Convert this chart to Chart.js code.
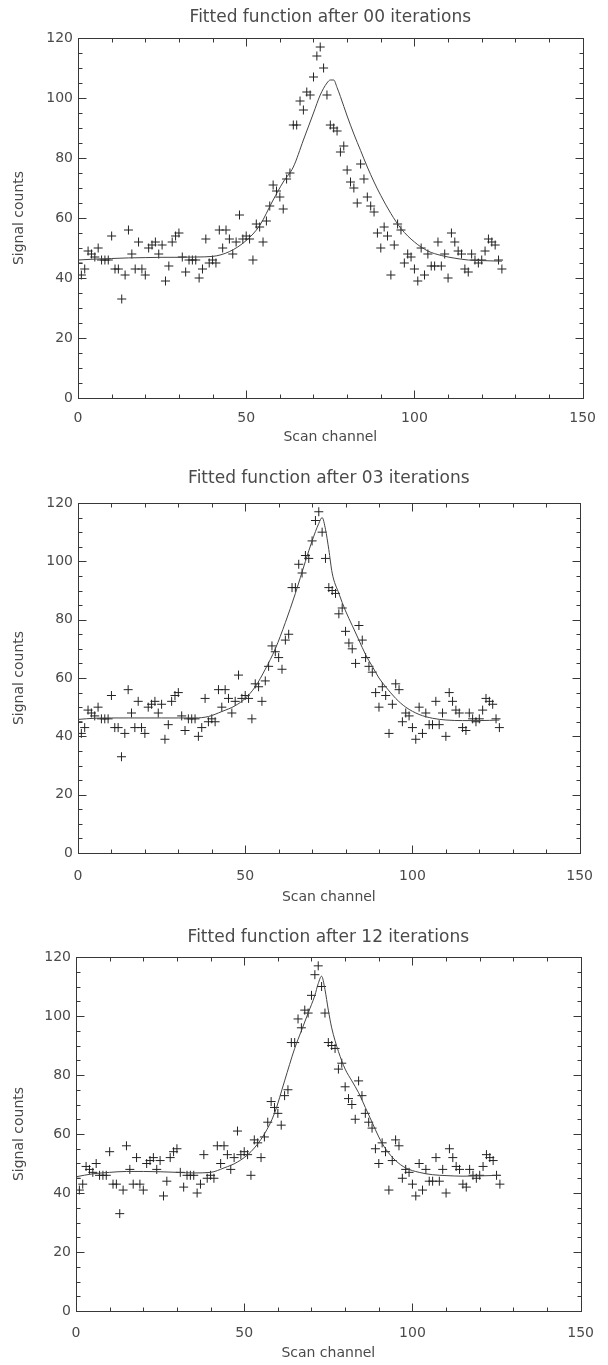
<!DOCTYPE html>
<html>
<head>
<meta charset="utf-8">
<script src="https://cdn.jsdelivr.net/npm/chart.js@4.4.1/dist/chart.umd.min.js"></script>
<style>
  html, body { margin: 0; padding: 0; background: #fff; }
  #wrap { position: relative; width: 608px; height: 1365px; }
  #wrap canvas { position: absolute; left: 0; }
</style>
</head>
<body>
<div id="wrap">
  <canvas id="p0" width="608" height="455" style="top:0px"></canvas>
  <canvas id="p1" width="608" height="455" style="top:455px"></canvas>
  <canvas id="p2" width="608" height="455" style="top:910px"></canvas>
</div>
<script>
// measured signal, one value per scan channel (channel = index)
const signal = [
  45, 41, 43, 49, 48, 47, 50, 46, 46, 46,
  54, 43, 43, 33, 41, 56, 48, 43, 52, 43,
  41, 50, 51, 52, 48, 51, 39, 44, 52, 54,
  55, 47, 42, 46, 46, 46, 40, 43, 53, 45,
  46, 45, 56, 50, 56, 53, 48, 52, 61, 53,
  54, 53, 46, 58, 57, 52, 59, 64, 71, 69,
  67, 63, 73, 75, 91, 91, 99, 96, 102, 101,
  107, 114, 117, 110, 101, 91, 90, 89, 82, 84,
  76, 72, 70, 65, 78, 73, 67, 64, 62, 55,
  50, 57, 54, 41, 51, 58, 56, 45, 48, 47,
  43, 39, 50, 41, 48, 44, 44, 52, 44, 48,
  40, 55, 52, 49, 48, 43, 42, 48, 46, 45,
  46, 49, 53, 52, 51, 46, 43
];

// fitted curves
const fit00X = [0, 5, 10, 15, 20, 25, 30, 35, 40, 45, 50, 54, 58, 61, 64, 67, 70, 72, 74, 75, 76, 77, 78, 80, 82, 84, 86, 88, 90, 93, 96, 100, 104, 108, 112, 116, 120, 126];
const fit00Y = [46, 46.3, 46.5, 46.7, 46.8, 46.9, 46.9, 47, 47.2, 48.8, 52.5, 57.5, 66, 72, 77, 86, 95, 101, 105, 106, 106, 103.5, 100.5, 94, 88, 82.5, 77, 72, 67.5, 61.5, 56.5, 52, 49, 47.5, 46.6, 46, 45.8, 45.6];

const fit03X = [0, 5, 10, 15, 20, 25, 30, 35, 39, 43, 47, 50, 53, 56, 59, 62, 65, 68, 70, 72, 73, 74, 75, 76, 78, 80, 82, 84, 86, 88, 90, 92, 95, 98, 102, 106, 110, 115, 120, 126];
const fit03Y = [45.8, 46.2, 46.3, 46.3, 46.3, 46.3, 46.3, 46.3, 46.8, 48.5, 50.5, 53, 57, 63, 70, 79, 89, 100, 107, 113, 115, 111, 104, 96, 89, 83, 78, 73, 68, 64, 60, 57, 53, 50, 47.5, 46.2, 45.6, 45.4, 45.4, 45.6];

const fit12X = [0, 5, 10, 15, 20, 25, 30, 35, 40, 44, 48, 52, 56, 59, 62, 65, 67, 69, 71, 72, 73, 74, 75, 76, 78, 80, 82, 84, 86, 88, 90, 92, 95, 98, 102, 106, 110, 115, 120, 126];
const fit12Y = [45.5, 46.5, 47, 47.3, 47.3, 47.2, 47, 46.8, 47, 48.5, 50.5, 54, 60, 67, 78, 89, 95, 101, 107, 111, 113.5, 109, 102, 96, 88, 82, 78, 74, 69, 64, 59, 55, 51, 48.5, 47, 46.2, 45.9, 45.7, 45.8, 46];

const iterations = ["00", "03", "12"];
const xRange = [0, 150];
const yRange = [0, 120];
const xMajor = 50, xMinor = 10;
const yMajor = 20, yMinor = 5;

// pixel boxes of each panel (local to its canvas)
const boxes = [
  { top: 38, bottom: 398, left: 78, right: 592, titleY: 18, tickPad: 12, xTitlePad: 9.6 },
  { top: 48, bottom: 398, left: 78, right: 592, titleY: 24, tickPad: 15, xTitlePad: 4.6 },
  { top: 47, bottom: 401, left: 76, right: 592, titleY: 28, tickPad: 14, xTitlePad: 3.6 }
];

const ink = "#383838";
const textInk = "#4a4a4a";
const fontFam = '"DejaVu Sans", sans-serif';

// IDL-like frame: box with inward ticks on all four sides, plus the title
const frameTicks = {
  id: "frameTicks",
  afterDraw(chart, args, opts) {
    const { ctx, chartArea: a } = chart;
    const x = chart.scales.x, y = chart.scales.y;
    ctx.save();
    ctx.strokeStyle = ink;
    ctx.lineWidth = 1;
    const L = Math.round(a.left) + 0.5, R = Math.round(a.right) + 0.5;
    const T = Math.round(a.top) + 0.5, B = Math.round(a.bottom) + 0.5;
    ctx.strokeRect(L, T, R - L, B - T);
    ctx.beginPath();
    for (let v = x.min; v <= x.max; v += xMinor) {
      const px = Math.round(x.getPixelForValue(v)) + 0.5;
      const len = v % xMajor === 0 ? 8 : 4;
      ctx.moveTo(px, B); ctx.lineTo(px, B - len);
      ctx.moveTo(px, T); ctx.lineTo(px, T + len);
    }
    for (let v = y.min; v <= y.max; v += yMinor) {
      const py = Math.round(y.getPixelForValue(v)) + 0.5;
      const len = v % yMajor === 0 ? 8 : 4;
      ctx.moveTo(L, py); ctx.lineTo(L + len, py);
      ctx.moveTo(R, py); ctx.lineTo(R - len, py);
    }
    ctx.stroke();
    ctx.fillStyle = textInk;
    ctx.font = "17px " + fontFam;
    ctx.textAlign = "center";
    ctx.textBaseline = "middle";
    ctx.fillText(opts.text, (a.left + a.right) / 2, opts.y);
    ctx.restore();
  }
};

function mkPanel(id, iter, fitX, fitY, box) {
  const el = document.getElementById(id);
  const H = el.height;
  new Chart(el.getContext("2d"), {
    data: {
      datasets: [
        {
          type: "line",
          data: fitX.map((v, i) => ({ x: v, y: fitY[i] })),
          borderColor: "#444",
          borderWidth: 1,
          pointRadius: 0,
          cubicInterpolationMode: "monotone",
          fill: false
        },
        {
          type: "scatter",
          data: signal.map((v, i) => ({ x: i, y: v })),
          pointStyle: "cross",
          pointRadius: 4.5,
          borderColor: "#222",
          borderWidth: 1
        }
      ]
    },
    options: {
      responsive: false,
      animation: false,
      layout: { padding: { top: box.top, left: 0, right: el.width - box.right, bottom: 0 } },
      plugins: {
        legend: { display: false },
        tooltip: { enabled: false },
        frameTicks: { text: "Fitted function after " + iter + " iterations", y: box.titleY }
      },
      scales: {
        x: {
          type: "linear",
          min: xRange[0], max: xRange[1],
          grid: { display: false, drawTicks: false },
          border: { display: false },
          ticks: { stepSize: xMajor, padding: box.tickPad, color: textInk, font: { family: fontFam, size: 14 }, maxRotation: 0 },
          title: { display: true, text: "Scan channel", color: textInk, font: { family: fontFam, size: 14 }, padding: { top: 0, bottom: box.xTitlePad } },
          afterFit(s) { s.height = H - box.bottom; }
        },
        y: {
          type: "linear",
          min: yRange[0], max: yRange[1],
          grid: { display: false, drawTicks: false },
          border: { display: false },
          ticks: { stepSize: yMajor, padding: 5, color: textInk, font: { family: fontFam, size: 14 } },
          title: { display: true, text: "Signal counts", color: textInk, font: { family: fontFam, size: 14 }, padding: { top: 10.6, bottom: 0 } },
          afterFit(s) { s.width = box.left; }
        }
      }
    },
    plugins: [frameTicks]
  });
}

mkPanel("p0", iterations[0], fit00X, fit00Y, boxes[0]);
mkPanel("p1", iterations[1], fit03X, fit03Y, boxes[1]);
mkPanel("p2", iterations[2], fit12X, fit12Y, boxes[2]);
</script>
</body>
</html>
